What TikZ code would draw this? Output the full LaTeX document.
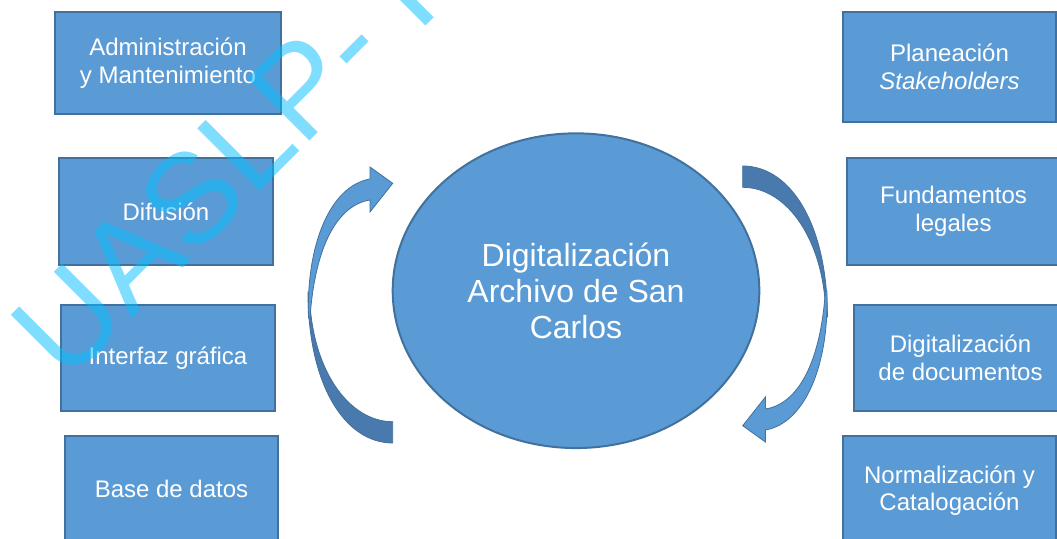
\documentclass[tikz,border=0pt]{standalone}
\usepackage{fontspec}
\setmainfont{Liberation Sans}
\usetikzlibrary{shapes.geometric}
\definecolor{boxfill}{HTML}{5B9BD5}
\definecolor{boxline}{HTML}{41719C}
\definecolor{darkband}{HTML}{4A7AAD}
\definecolor{wmark}{RGB}{0,191,255}
\newcommand\carrowbands{%
  \filldraw[darkband, draw=boxline, line width=0.8pt]
    (392.7,443) .. controls (345,443) and (308,385) .. (308,292)
    -- (309.5,292) .. controls (310.5,368) and (348,421.7) .. (392.7,421.7) -- cycle;
  \filldraw[boxfill, draw=boxline, line width=0.8pt]
    (308.5,318) .. controls (306,245) and (330,186) .. (370,179)
    -- (370,167) -- (392.7,183.3) -- (370,212) -- (370,200)
    .. controls (338,205) and (315,245) .. (310,318) -- cycle;
}
\begin{document}
\begin{tikzpicture}[x=1pt,y=-1pt,
  box/.style={draw=boxline, fill=boxfill, line width=2pt, text=white,
    align=center, inner sep=0pt, font=\fontsize{24}{27.6}\selectfont},
  hub/.style={ellipse, draw=boxline, fill=boxfill, line width=2pt, text=white,
    align=center, inner sep=0pt, font=\fontsize{32}{36}\selectfont},
  wm/.style={text=wmark, text opacity=0.5, inner sep=0pt,
    font=\fontsize{128}{150}\selectfont}]
\clip (0,0) rectangle (1057,538);
\fill[white] (0,0) rectangle (1057,538);
% curved arrows
\carrowbands
\begin{scope}[rotate around={180:(567.7,304.5)}]
  \carrowbands
\end{scope}
% centre
\node[hub, minimum width=366.6pt, minimum height=314.7pt] (hub) at (576,290.7)
  {Digitalización\\Archivo de San\\Carlos};
% left boxes
\node[box, minimum width=226pt, minimum height=102pt] (adm) at (168,63) {Administración\\y Mantenimiento};
\node[box, minimum width=214pt, minimum height=107pt] (dif) at (166,211.5) {Difusión};
\node[box, minimum width=214pt, minimum height=106pt] (int) at (168,358) {Interfaz gráfica};
\node[box, minimum width=213pt, minimum height=106pt] (bas) at (171.5,489) {Base de datos};
% right boxes
\node[box, minimum width=213pt, minimum height=110pt] (pla) at (949.5,67) {Planeación\\\textit{Stakeholders}};
\node[box, minimum width=213pt, minimum height=107pt] (fun) at (953.5,211.5) {Fundamentos\\legales};
\node[box, minimum width=213pt, minimum height=106pt] (dig) at (960.5,358) {Digitalización\\de documentos};
\node[box, minimum width=213pt, minimum height=109pt] (nor) at (949.5,490.5) {Normalización y\\Catalogación};
% watermark
\node[wm, anchor=base west, rotate=45] (wmk) at (66.4,385) {UASLP-\kern0.096em T};
\end{tikzpicture}
\end{document}
